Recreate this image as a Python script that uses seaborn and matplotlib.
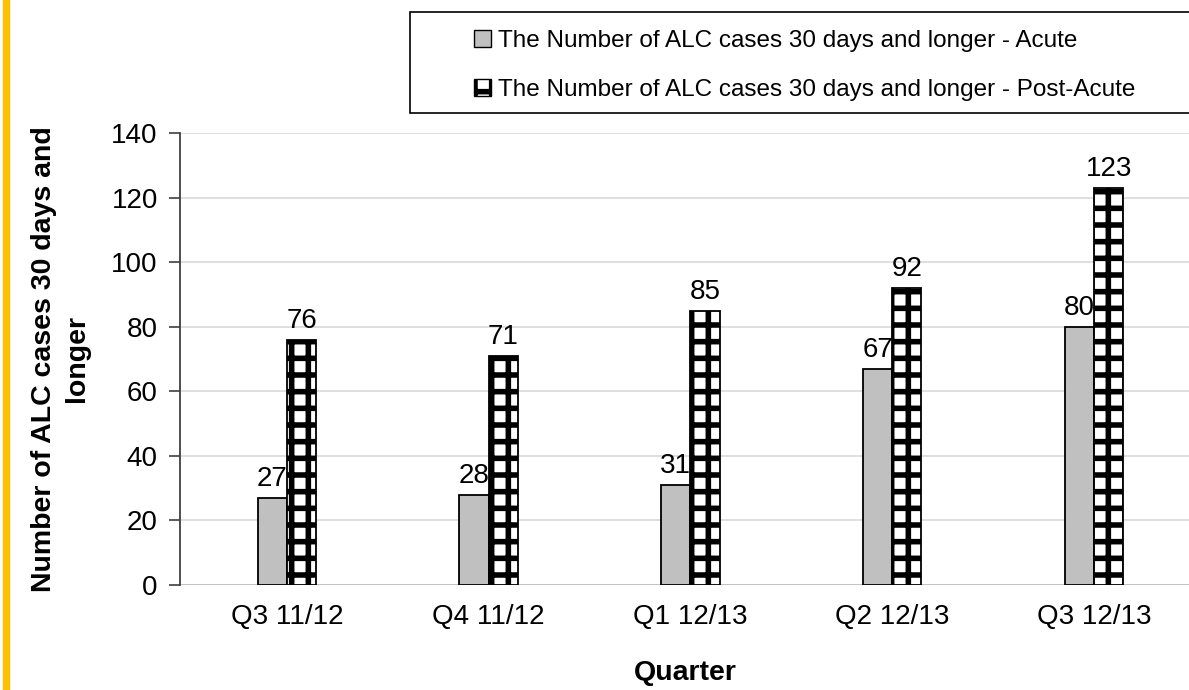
import pandas as pd
import matplotlib.pyplot as plt
import matplotlib.patches as mpatches
import seaborn as sns

# data
quarters = ["Q3 11/12", "Q4 11/12", "Q1 12/13", "Q2 12/13", "Q3 12/13"]
acute = [27, 28, 31, 67, 80]
post_acute = [76, 71, 85, 92, 123]
series_names = ["The Number of ALC cases 30 days and longer - Acute",
                "The Number of ALC cases 30 days and longer - Post-Acute"]

df = pd.DataFrame({
    "Quarter": quarters * 2,
    "Value": acute + post_acute,
    "Series": [series_names[0]] * len(quarters) + [series_names[1]] * len(quarters),
})

sns.set_style("white")
plt.rcParams['font.family'] = ['Liberation Sans', 'DejaVu Sans']
plt.rcParams['text.color'] = 'black'
plt.rcParams['axes.labelcolor'] = 'black'
plt.rcParams['xtick.color'] = 'black'
plt.rcParams['ytick.color'] = 'black'
plt.rcParams['hatch.linewidth'] = 4
plt.rcParams['hatch.color'] = 'black'

HATCH = "+"

fig = plt.figure(figsize=(11.89, 6.9), dpi=100)
ax = fig.add_axes([180 / 1189, 1 - 585 / 690, 1010 / 1189, (585 - 133) / 690])

sns.barplot(data=df, x="Quarter", y="Value", hue="Series", order=quarters,
            hue_order=series_names, palette=["#C0C0C0", "white"],
            width=0.29, edgecolor="black", linewidth=1.3, ax=ax, legend=False)

# hatch on post-acute bars
for bar in ax.containers[1]:
    bar.set_hatch(HATCH)

for cont in ax.containers:
    ax.bar_label(cont, fontsize=20, padding=4, color="black")

ax.set_ylim(0, 140)
ax.set_yticks(range(0, 141, 20))
ax.set_xlim(-0.53, 4.476)
ax.yaxis.grid(True, color="#d9d9d9", linewidth=1.2)
ax.set_axisbelow(True)
for s in ["top", "right", "bottom"]:
    ax.spines[s].set_visible(False)
ax.spines["left"].set_color("#404040")
ax.spines["left"].set_linewidth(1.3)
ax.axhline(0, color="#404040", linewidth=1.3, zorder=0.5)
ax.tick_params(axis="y", left=True, length=8, width=1.2, color="#404040",
               labelcolor="black", labelsize=20, pad=8)
ax.tick_params(axis="x", bottom=False, labelcolor="black", labelsize=20, pad=10)

ax.set_xlabel("Quarter", fontsize=20.5, fontweight="bold", labelpad=22)
ax.set_ylabel("Number of ALC cases 30 days and\nlonger", fontsize=20.5,
              fontweight="bold", labelpad=15, linespacing=1.35)

# legend box drawn separately, entries indented inside it
fig.add_artist(mpatches.Rectangle((410 / 1189, 1 - 113 / 690), 790 / 1189, 101 / 690,
                                  transform=fig.transFigure, facecolor="white",
                                  edgecolor="black", linewidth=1.2))
h1 = mpatches.Patch(facecolor="#C0C0C0", edgecolor="black", label=series_names[0])
h2 = mpatches.Patch(facecolor="white", edgecolor="black", hatch=HATCH, label=series_names[1])
leg = fig.legend(handles=[h1, h2], loc="upper left",
                 bbox_to_anchor=(474 / 1189, 1 - 30 / 690),
                 fontsize=17.5, frameon=False, handlelength=0.7,
                 handleheight=0.7, handletextpad=0.3, borderpad=0, labelspacing=1.1,
                 borderaxespad=0)

# yellow side strip
fig.add_artist(mpatches.Rectangle((3 / 1189, 0), 6 / 1189, 1,
                                  transform=fig.transFigure, color="#FFC000"))

fig.savefig("out.png", dpi=100)
